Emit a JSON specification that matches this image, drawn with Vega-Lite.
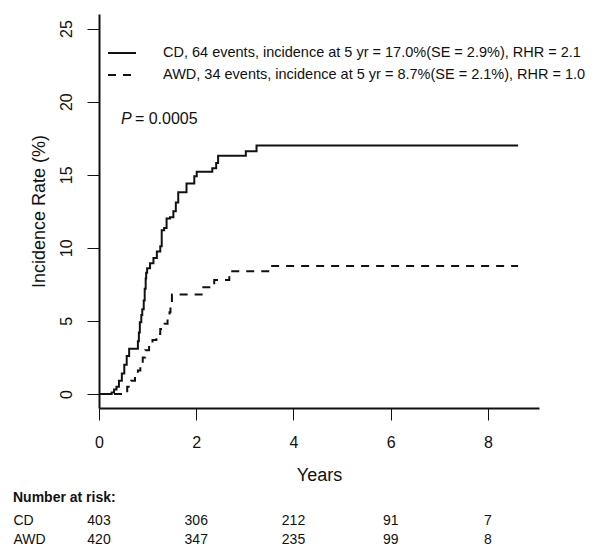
{
  "$schema": "https://vega.github.io/schema/vega-lite/v6.json",
  "background": "white",
  "padding": {"left": 13, "top": 14, "right": 5, "bottom": 4},
  "bounds": "flush",
  "spacing": 103,
  "resolve": {"scale": {"x": "independent", "y": "independent"}},
  "config": {
    "font": "Liberation Sans",
    "view": {"stroke": null},
    "axis": {"grid": false}
  },
  "vconcat": [
    {
      "width": 440,
      "height": 394,
      "layer": [
        {
          "data": {
            "values": [
              {"series": "CD", "years": 0, "incidence": 0},
              {"series": "CD", "years": 0.26, "incidence": 0.1},
              {"series": "CD", "years": 0.31, "incidence": 0.3},
              {"series": "CD", "years": 0.36, "incidence": 0.5},
              {"series": "CD", "years": 0.41, "incidence": 0.9},
              {"series": "CD", "years": 0.47, "incidence": 1.4},
              {"series": "CD", "years": 0.52, "incidence": 2.0},
              {"series": "CD", "years": 0.57, "incidence": 2.6},
              {"series": "CD", "years": 0.62, "incidence": 3.1},
              {"series": "CD", "years": 0.80, "incidence": 3.6},
              {"series": "CD", "years": 0.82, "incidence": 4.2},
              {"series": "CD", "years": 0.84, "incidence": 4.9},
              {"series": "CD", "years": 0.87, "incidence": 5.4},
              {"series": "CD", "years": 0.89, "incidence": 5.8},
              {"series": "CD", "years": 0.92, "incidence": 6.4},
              {"series": "CD", "years": 0.94, "incidence": 7.2},
              {"series": "CD", "years": 0.96, "incidence": 7.9},
              {"series": "CD", "years": 0.97, "incidence": 8.3},
              {"series": "CD", "years": 0.99, "incidence": 8.6},
              {"series": "CD", "years": 1.05, "incidence": 8.95},
              {"series": "CD", "years": 1.12, "incidence": 9.3},
              {"series": "CD", "years": 1.19, "incidence": 9.75},
              {"series": "CD", "years": 1.26, "incidence": 10.1},
              {"series": "CD", "years": 1.29, "incidence": 11.2},
              {"series": "CD", "years": 1.34, "incidence": 11.35},
              {"series": "CD", "years": 1.39, "incidence": 12.0},
              {"series": "CD", "years": 1.46, "incidence": 12.1},
              {"series": "CD", "years": 1.53, "incidence": 12.5},
              {"series": "CD", "years": 1.58, "incidence": 13.1},
              {"series": "CD", "years": 1.63, "incidence": 13.8},
              {"series": "CD", "years": 1.80, "incidence": 14.4},
              {"series": "CD", "years": 1.96, "incidence": 14.9},
              {"series": "CD", "years": 2.01, "incidence": 15.2},
              {"series": "CD", "years": 2.33, "incidence": 15.45},
              {"series": "CD", "years": 2.41, "incidence": 15.8},
              {"series": "CD", "years": 2.45, "incidence": 16.3},
              {"series": "CD", "years": 3.02, "incidence": 16.6},
              {"series": "CD", "years": 3.24, "incidence": 17.0},
              {"series": "CD", "years": 8.62, "incidence": 17.0},
              {"series": "AWD", "years": 0, "incidence": 0},
              {"series": "AWD", "years": 0.58, "incidence": 0.5},
              {"series": "AWD", "years": 0.66, "incidence": 0.9},
              {"series": "AWD", "years": 0.74, "incidence": 1.2},
              {"series": "AWD", "years": 0.80, "incidence": 1.6},
              {"series": "AWD", "years": 0.85, "incidence": 2.1},
              {"series": "AWD", "years": 0.90, "incidence": 2.5},
              {"series": "AWD", "years": 0.95, "incidence": 3.0},
              {"series": "AWD", "years": 1.03, "incidence": 3.4},
              {"series": "AWD", "years": 1.10, "incidence": 3.7},
              {"series": "AWD", "years": 1.18, "incidence": 4.1},
              {"series": "AWD", "years": 1.26, "incidence": 4.45},
              {"series": "AWD", "years": 1.35, "incidence": 4.8},
              {"series": "AWD", "years": 1.41, "incidence": 5.1},
              {"series": "AWD", "years": 1.45, "incidence": 5.6},
              {"series": "AWD", "years": 1.47, "incidence": 6.0},
              {"series": "AWD", "years": 1.50, "incidence": 6.8},
              {"series": "AWD", "years": 2.11, "incidence": 7.3},
              {"series": "AWD", "years": 2.37, "incidence": 7.8},
              {"series": "AWD", "years": 2.68, "incidence": 8.4},
              {"series": "AWD", "years": 3.52, "incidence": 8.75},
              {"series": "AWD", "years": 8.62, "incidence": 8.75}
            ]
          },
          "transform": [
            {"lookup": "series", "from": {"data": {"values": [
              {"series": "CD", "label": "CD, 64 events,  incidence at 5 yr = 17.0%(SE = 2.9%), RHR = 2.1"},
              {"series": "AWD", "label": "AWD, 34 events,  incidence at 5 yr = 8.7%(SE = 2.1%), RHR = 1.0"}
            ]}, "key": "series", "fields": ["label"]}}
          ],
          "mark": {"type": "line", "interpolate": "step-after", "strokeWidth": 2, "color": "#111111"},
          "encoding": {
            "x": {
              "field": "years", "type": "quantitative",
              "scale": {"domain": [0, 9.05], "nice": false, "zero": false},
              "axis": {
                "title": "Years", "values": [0, 2, 4, 6, 8], "labelFlush": false,
                "tickSize": 12, "tickColor": "#111111", "tickWidth": 1,
                "domainColor": "#111111", "domainWidth": 2,
                "labelFontSize": 16, "labelPadding": 14, "labelColor": "#111111",
                "titleFontSize": 18, "titleFontWeight": "normal", "titlePadding": 16, "titleColor": "#111111"
              }
            },
            "y": {
              "field": "incidence", "type": "quantitative",
              "scale": {"domain": [-0.96, 26], "nice": false, "zero": false},
              "axis": {
                "title": "Incidence Rate (%)", "values": [0, 5, 10, 15, 20, 25],
                "labelAngle": -90, "labelAlign": "center", "labelBaseline": "bottom", "labelFlush": false,
                "tickSize": 12, "tickColor": "#111111", "tickWidth": 1,
                "domainColor": "#111111", "domainWidth": 2,
                "labelFontSize": 16, "labelPadding": 13, "labelColor": "#111111",
                "titleFontSize": 18, "titleFontWeight": "normal", "titlePadding": 10, "titleColor": "#111111"
              }
            },
            "strokeDash": {
              "field": "label", "type": "nominal",
              "scale": {
                "domain": [
                  "CD, 64 events,  incidence at 5 yr = 17.0%(SE = 2.9%), RHR = 2.1",
                  "AWD, 34 events,  incidence at 5 yr = 8.7%(SE = 2.1%), RHR = 1.0"
                ],
                "range": [[1, 0], [8, 7]]
              },
              "legend": {
                "title": null, "orient": "none", "legendX": 8, "legendY": 24,
                "symbolType": "stroke", "symbolSize": 784, "symbolStrokeWidth": 2, "symbolStrokeColor": "#111111",
                "labelFontSize": 14.5, "labelOffset": 26, "rowPadding": -13, "labelLimit": 0, "padding": 0,
                "labelColor": "#111111"
              }
            }
          }
        },
        {
          "data": {"values": [{"years": 0.45, "incidence": 18.8, "sym": "P", "val": "= 0.0005"}]},
          "mark": {"type": "text", "fontSize": 16, "fontStyle": "italic", "align": "left", "baseline": "middle", "color": "#111111"},
          "encoding": {
            "x": {"field": "years", "type": "quantitative"},
            "y": {"field": "incidence", "type": "quantitative"},
            "text": {"field": "sym"}
          }
        },
        {
          "data": {"values": [{"years": 0.45, "incidence": 18.8, "sym": "P", "val": "= 0.0005"}]},
          "mark": {"type": "text", "fontSize": 16, "align": "left", "baseline": "middle", "dx": 14, "color": "#111111"},
          "encoding": {
            "x": {"field": "years", "type": "quantitative"},
            "y": {"field": "incidence", "type": "quantitative"},
            "text": {"field": "val"}
          }
        }
      ]
    },
    {
      "width": 440,
      "height": 38,
      "title": {"text": "Number at risk:", "anchor": "start", "frame": "bounds", "fontSize": 14, "fontWeight": "bold", "offset": 6, "color": "#111111"},
      "data": {
        "values": [
          {"group": "CD", "years": 0, "n": 403},
          {"group": "CD", "years": 2, "n": 306},
          {"group": "CD", "years": 4, "n": 212},
          {"group": "CD", "years": 6, "n": 91},
          {"group": "CD", "years": 8, "n": 7},
          {"group": "AWD", "years": 0, "n": 420},
          {"group": "AWD", "years": 2, "n": 347},
          {"group": "AWD", "years": 4, "n": 235},
          {"group": "AWD", "years": 6, "n": 99},
          {"group": "AWD", "years": 8, "n": 8}
        ]
      },
      "mark": {"type": "text", "fontSize": 14, "baseline": "middle", "color": "#111111"},
      "encoding": {
        "x": {"field": "years", "type": "quantitative", "scale": {"domain": [0, 9.05], "nice": false, "zero": false}, "axis": null},
        "y": {
          "field": "group", "type": "nominal", "sort": ["CD", "AWD"],
          "axis": {"title": null, "domain": false, "ticks": false, "labelAlign": "left", "labelPadding": 86, "labelFontSize": 14, "labelColor": "#111111"}
        },
        "text": {"field": "n", "type": "quantitative"}
      }
    }
  ]
}
